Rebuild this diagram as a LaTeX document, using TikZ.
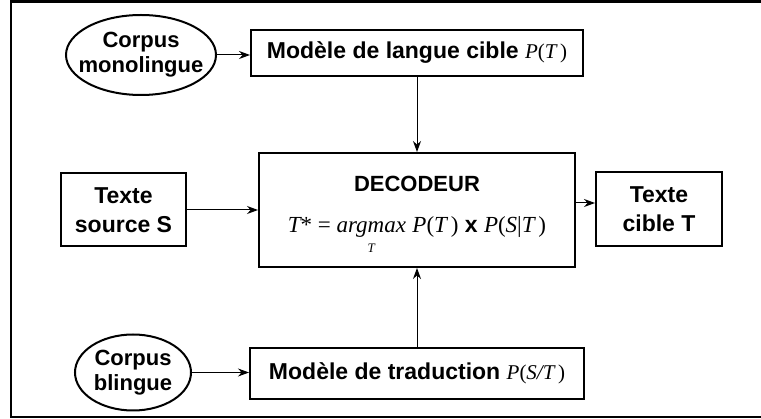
\documentclass[tikz,border=0pt]{standalone}
\usepackage{amsmath}
\usepackage{fontspec}
\setmainfont{Liberation Sans}
\newfontfamily\tnr{Liberation Serif}
\usetikzlibrary{shapes,arrows.meta,positioning}
\tikzset{>={Stealth[length=11pt,width=8pt]}}
\tikzset{block node/.style={draw,line width=2pt,inner sep=0pt,align=center,font=\bfseries\fontsize{23}{29}\selectfont},
            model node/.style={block node,minimum width=332pt,font=\bfseries\fontsize{23}{26}\selectfont},
            corpus node/.style={ellipse,draw,line width=2pt,inner sep=0pt,align=center,font=\bfseries\fontsize{22}{25}\selectfont},
            }
\newcommand{\vi}[1]{{\tnr\mdseries\itshape #1}}
\newcommand{\vu}[1]{{\tnr\mdseries #1}}
\newcommand{\nowidth}[1]{\makebox[0pt]{#1}}

\begin{document}
\begin{tikzpicture}[x=1pt,y=-1pt]

    \useasboundingbox (0,0) rectangle (761,419);
    \draw[line width=2.5pt] (761,1.5) -- (11,1.5) -- (11,417) -- (761,417);

    \node[block node,minimum width=316pt,minimum height=114pt] (dec) at (417,210)
        {\fontsize{22}{26}\selectfont\rule{0pt}{26pt}DECODEUR\\[12pt]
         \fontsize{23}{23}\selectfont\vi{T}\vu{* = }$\underset{\text{\vi{\fontsize{13}{13}\selectfont T}}}{\text{\vi{argmax}}}$ \vi{P}\vu{(}\vi{T}\,\vu{)} x \vi{P}\vu{(}\vi{S}\vu{|}\vi{T}\,\vu{)}};
    \node[model node,minimum height=46pt] (langue) [above = 75pt of dec]
        {Modèle de langue cible {\fontsize{21}{26}\selectfont\vi{P}\vu{(}\vi{T}\,\vu{)}}};
    \node[model node,minimum width=334pt,minimum height=51pt] (trad) [below = 79pt of dec]
        {Modèle de traduction {\fontsize{21}{26}\selectfont\vi{P}\vu{(}\vi{S/T}\,\vu{)}}};
    \node[block node,minimum width=125pt,minimum height=73pt] (src) [left = 71pt of dec] {Texte\\source S};
    \node[block node,minimum width=126pt,minimum height=74pt] (cible) [right = 19pt of dec,yshift=1pt] {Texte\\cible T};
    \node[corpus node,minimum width=150pt,minimum height=80pt] (mono) [left = 33pt of langue,yshift=-2pt]
        {\nowidth{Corpus}\\\nowidth{monolingue}};
    \node[corpus node,minimum width=116pt,minimum height=76pt] (bling) [left = 57pt of trad,yshift=1pt]
        {\nowidth{Corpus}\\\nowidth{blingue}};
    \coordinate (decout) at ([yshift=7pt]dec.east);

    \path[draw,line width=1pt,->]
    (mono) edge (mono -| langue.west)
    (langue) edge (dec)
    (src) edge (dec)
    (trad) edge (dec)
    (bling) edge (bling -| trad.west);
    \draw[line width=1pt,->] (decout) -- (decout -| cible.west);

\end{tikzpicture}
\end{document}
